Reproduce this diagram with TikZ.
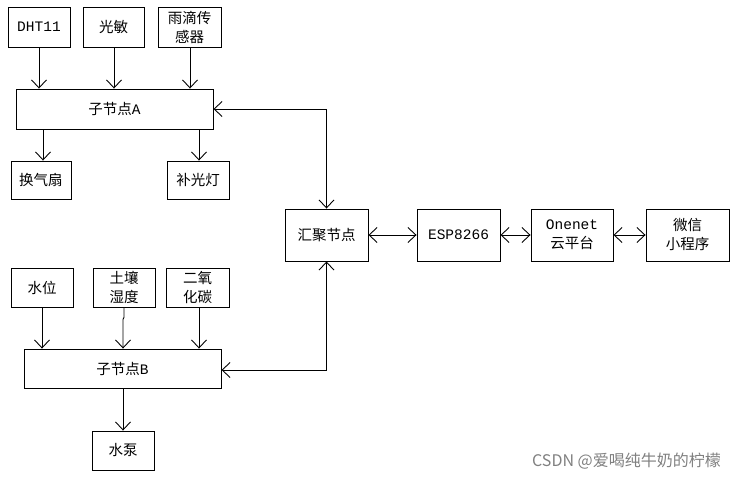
\documentclass[tikz,border=0pt]{standalone}
\usepackage{fontspec}
\setmainfont{Noto Sans CJK SC}
\newfontfamily\latmono{Liberation Mono}
\newfontfamily\wmfont{Noto Sans CJK SC}
\usetikzlibrary{arrows.meta,calc}
\begin{document}
\begin{tikzpicture}[x=1pt,y=-1pt,
  box/.style={draw,line width=0.9pt,inner sep=0pt,align=center,
    font=\fontsize{14.5}{19}\selectfont,minimum height=40pt},
  arr/.style={line width=0.9pt,-{Straight Barb[length=8pt,width=15pt]}},
  arrr/.style={line width=0.9pt,{Straight Barb[length=8pt,width=15pt]}-{Straight Barb[length=8pt,width=15pt]}}]
\useasboundingbox (0,0) rectangle (736,478);
% top group
\node[box,minimum width=62pt] (dht) at (39,27) {{\latmono DHT11}};
\node[box,minimum width=61pt] (gm) at (113.5,27) {光敏};
\node[box,minimum width=63pt] (yd) at (189.5,27) {雨滴传\\感器};
\node[box,minimum width=197pt] (A) at (114.5,109) {子节点{\latmono A}};
\node[box,minimum width=60pt,minimum height=38pt] (fan) at (41,180) {换气扇};
\node[box,minimum width=62pt,minimum height=38pt] (lamp) at (198,180) {补光灯};
% bottom group
\node[box,minimum width=62pt,minimum height=39pt] (sw) at (42,287.5) {水位};
\node[box,minimum width=62pt,minimum height=39pt] (tr) at (124,287.5) {土壤\\湿度};
\node[box,minimum width=63pt,minimum height=39pt] (co) at (197.5,287.5) {二氧\\化碳};
\node[box,minimum width=197pt,minimum height=39pt] (B) at (122.5,368.5) {子节点{\latmono B}};
\node[box,minimum width=62pt,minimum height=39pt] (pump) at (123,450.5) {水泵};
% chain
\node[box,minimum width=83pt,minimum height=52pt] (hub) at (326.5,235) {汇聚节点};
\node[box,minimum width=83pt,minimum height=52pt] (esp) at (458.5,235) {{\latmono ESP8266}};
\node[box,minimum width=82pt,minimum height=52pt] (one) at (572,235) {{\latmono Onenet}\\云平台};
\node[box,minimum width=83pt,minimum height=52pt] (wx) at (687.5,235) {微信\\小程序};
% helper coordinates
\coordinate (gmS) at ($(gm.south)+(0.5,0)$);
\coordinate (ydS) at ($(yd.south)+(0.5,0)$);
\coordinate (fanN) at ($(fan.north)+(2,0)$);
\coordinate (lampN) at ($(lamp.north)+(1,0)$);
\coordinate (coS) at ($(co.south)+(1.5,0)$);
\coordinate (trJ1) at ($(tr.south)+(0,10)$);
\coordinate (trJ2) at ($(tr.south)+(-1,12)$);
\coordinate (Bin) at ($(B.east)+(0,1.5)$);
% arrows top
\draw[arr] (dht.south) -- (dht.south |- A.north);
\draw[arr] (gmS) -- (gmS |- A.north);
\draw[arr] (ydS) -- (ydS |- A.north);
\draw[arr] (fanN |- A.south) -- (fanN);
\draw[arr] (lampN |- A.south) -- (lampN);
% arrows bottom
\draw[arr] (sw.south) -- (sw.south |- B.north);
\draw[arr] (tr.south) -- (trJ1) -- (trJ2) -- (trJ2 |- B.north);
\draw[arr] (coS) -- (coS |- B.north);
\draw[arr] (B.south -| pump.north) -- (pump.north);
% links to hub
\draw[arrr] (A.east) -- (A.east -| hub.north) -- (hub.north);
\draw[arrr] (Bin) -- (Bin -| hub.south) -- (hub.south);
\draw[arrr] (hub.east) -- (esp.west);
\draw[arrr] (esp.east) -- (one.west);
\draw[arrr] (one.east) -- (wx.west);
% watermark
\node[anchor=east,inner sep=0pt,text=black!50,font=\wmfont\fontsize{16}{19}\selectfont] (wm) at (721,461) {CSDN @爱喝纯牛奶的柠檬};
\end{tikzpicture}
\end{document}
